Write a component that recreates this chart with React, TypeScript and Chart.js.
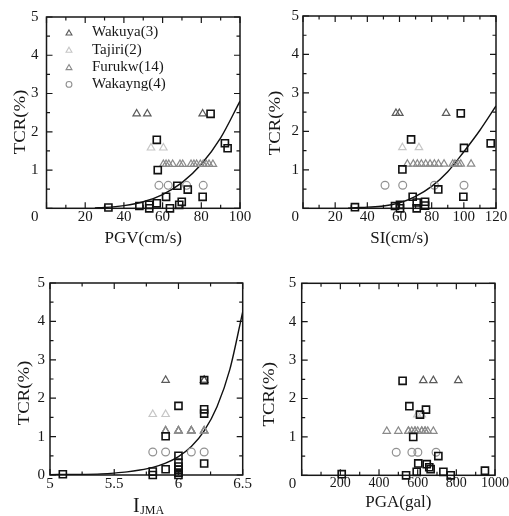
import React, { useEffect, useRef } from 'react';
import { Chart, registerables } from 'chart.js';

Chart.register(...registerables);

const FONT = '"Liberation Serif", "Times New Roman", Times, serif';
const INK = '#171717';

// ---------------- shared data ----------------
const TCR_TICKS = [0, 1, 2, 3, 4, 5];
const SERIES_LABELS = ['Wakuya(3)', 'Tajiri(2)', 'Furukw(14)', 'Wakayng(4)'];
const WAKUYA_TCR = [2.47, 2.47, 2.47];
const TAJIRI_TCR = [1.58, 1.58];
const FURUKW_TCR = [1.15, 1.15, 1.15, 1.15, 1.15, 1.15, 1.15, 1.15, 1.15, 1.15, 1.15, 1.15, 1.15, 1.15];
const WAKAYNG_TCR = [0.6, 0.6, 0.6, 0.6];

// ---------------- PGV ----------------
const PGV_TICKS = [0, 20, 40, 60, 80, 100];
const PGV_SQUARE_X = [32, 48, 53.1, 53.1, 57, 61.8, 63.8, 68.6, 69.9, 67.6, 73, 80.7, 57.5, 57, 84.8, 92.2, 93.6];
const PGV_SQUARE_TCR = [0.02, 0.06, 0.09, 0, 0.13, 0.3, 0, 0.09, 0.17, 0.59, 0.49, 0.3, 1.0, 1.79, 2.47, 1.7, 1.57];
const PGV_WAKUYA = [46.6, 52.1, 80.7];
const PGV_TAJIRI = [54, 60.4];
const PGV_FURUKW = [60.4, 61.8, 63.2, 65.2, 69, 70.4, 74.7, 76.2, 77.6, 79.5, 81, 82.5, 84, 86];
const PGV_WAKAYNG = [58.1, 62.9, 72.4, 81];
const PGV_FIT_X = [25, 30, 40, 50, 60, 70, 80, 90, 100];
const PGV_FIT_TCR = [0.01, 0.02, 0.07, 0.17, 0.36, 0.67, 1.15, 1.84, 2.8];

// ---------------- SI ----------------
const SI_TICKS = [0, 20, 40, 60, 80, 100, 120];
const SI_SQUARE_X = [32.3, 57.2, 60.3, 60.3, 68.2, 70.7, 70.7, 75.9, 75.9, 61.8, 67.2, 84.1, 99.7, 100.1, 98.1, 116.7];
const SI_SQUARE_TCR = [0.03, 0.06, 0.09, 0, 0.3, 0.15, 0, 0.17, 0.07, 1.01, 1.79, 0.49, 0.3, 1.57, 2.47, 1.69];
const SI_WAKUYA = [57.8, 59.9, 89];
const SI_TAJIRI = [61.8, 72.1];
const SI_FURUKW = [64.9, 68.6, 71.1, 73.6, 76.3, 79, 81.7, 84.2, 87.7, 93.1, 94.5, 96.6, 98.1, 104.5];
const SI_WAKAYNG = [51, 62, 81.7, 100.1];
const SI_FIT_X = [28, 30, 40, 50, 60, 70, 80, 90, 100, 110, 120];
const SI_FIT_TCR = [0, 0.01, 0.03, 0.06, 0.14, 0.31, 0.57, 0.95, 1.47, 2.03, 2.66];

// ---------------- I_JMA ----------------
const IJMA_TICKS = [5, 5.5, 6, 6.5];
const IJMA_SQUARE_X = [5.1, 5.8, 5.8, 5.9, 5.9, 6, 6, 6, 6, 6, 6, 6, 6.2, 6.2, 6.2, 6.2];
const IJMA_SQUARE_TCR = [0.02, 0.09, 0, 0.15, 1.01, 0.5, 0.32, 0.22, 0.14, 0.06, 0, 1.8, 2.47, 1.71, 1.6, 0.3];
const IJMA_WAKUYA = [5.9, 6.2, 6.2];
const IJMA_TAJIRI = [5.8, 5.9];
const IJMA_FURUKW = [5.9, 5.9, 5.9, 6, 6, 6, 6, 6.1, 6.1, 6.1, 6.1, 6.2, 6.2, 6.2];
const IJMA_WAKAYNG = [5.8, 5.9, 6.1, 6.2];
const IJMA_FIT_X = [5, 5.2, 5.4, 5.5, 5.6, 5.7, 5.8, 5.9, 6, 6.1, 6.2, 6.3, 6.4, 6.5];
const IJMA_FIT_TCR = [0.01, 0.015, 0.03, 0.05, 0.08, 0.13, 0.2, 0.31, 0.48, 0.74, 1.15, 1.78, 2.75, 4.25];

// ---------------- PGA ----------------
const PGA_TICKS = [0, 200, 400, 600, 800, 1000];
const PGA_SQUARE_X = [207, 522, 557, 643, 577, 603, 647, 660, 667, 707, 540, 595, 733, 771, 948, 612];
const PGA_SQUARE_TCR = [0.03, 2.46, 1.8, 1.71, 1.0, 0.31, 0.29, 0.21, 0.16, 0.5, 0, 0.09, 0.09, 0, 0.12, 1.58];
const PGA_WAKUYA = [629, 681, 810];
const PGA_TAJIRI = [598, 621];
const PGA_FURUKW = [440, 500, 552, 552, 569, 586, 586, 600, 621, 621, 638, 638, 652, 681];
const PGA_WAKAYNG = [489, 570, 601, 695];

// ---------------- plugins ----------------
const framePlugin = {
  id: 'frame',
  beforeDatasetsDraw(chart: any) {
    const { ctx, chartArea: a } = chart;
    const xs = chart.scales.x;
    const ys = chart.scales.y;
    const marks = (scale: any) => {
      const vals: number[] = scale.ticks.map((t: any) => t.value);
      const out: { v: number; major: boolean }[] = [];
      vals.forEach((v, i) => {
        out.push({ v, major: true });
        if (i < vals.length - 1) out.push({ v: (v + vals[i + 1]) / 2, major: false });
      });
      return out;
    };
    ctx.save();
    ctx.strokeStyle = INK;
    ctx.lineWidth = 1.2;
    ctx.beginPath();
    for (const m of marks(xs)) {
      const px = xs.getPixelForValue(m.v);
      const L = m.major ? 6 : 3.5;
      ctx.moveTo(px, a.bottom);
      ctx.lineTo(px, a.bottom - L);
      ctx.moveTo(px, a.top);
      ctx.lineTo(px, a.top + L);
    }
    for (const m of marks(ys)) {
      const py = ys.getPixelForValue(m.v);
      const L = m.major ? 6 : 3.5;
      ctx.moveTo(a.left, py);
      ctx.lineTo(a.left + L, py);
      ctx.moveTo(a.right, py);
      ctx.lineTo(a.right - L, py);
    }
    ctx.stroke();
    ctx.lineWidth = 1.5;
    ctx.strokeRect(a.left, a.top, a.right - a.left, a.bottom - a.top);
    ctx.restore();
  },
};

function drawMarker(ctx: CanvasRenderingContext2D, style: string, x: number, y: number, r: number) {
  ctx.beginPath();
  if (style === 'triangle') {
    for (let k = 0; k < 3; k++) {
      const ang = (k * 2 * Math.PI) / 3;
      const px = x + Math.sin(ang) * r;
      const py = y - Math.cos(ang) * r;
      if (k === 0) ctx.moveTo(px, py);
      else ctx.lineTo(px, py);
    }
    ctx.closePath();
  } else {
    ctx.arc(x, y, r, 0, Math.PI * 2);
  }
  ctx.stroke();
}

const legendPlugin = {
  id: 'insideLegend',
  afterDraw(chart: any, _args: any, opts: any) {
    if (!opts || !opts.show) return;
    const { ctx, chartArea: a } = chart;
    ctx.save();
    ctx.font = `${opts.fontSize}px ${FONT}`;
    ctx.textBaseline = 'middle';
    ctx.textAlign = 'left';
    let row = 0;
    chart.data.datasets.forEach((ds: any) => {
      if (!ds.inLegend) return;
      const y = a.top + opts.firstRow + row * opts.rowGap;
      ctx.strokeStyle = ds.pointBorderColor;
      ctx.lineWidth = 1.1;
      const r = ds.pointStyle === 'triangle' ? 3.4 : 2.9;
      drawMarker(ctx, ds.pointStyle, a.left + opts.markerX, ds.pointStyle === 'triangle' ? y + 0.8 : y, r);
      ctx.fillStyle = INK;
      ctx.fillText(ds.label, a.left + opts.textX, y);
      row++;
    });
    ctx.restore();
  },
};

// rotated y-axis title placed at a given centre (the reference's titles sit off-centre)
const yTitlePlugin = {
  id: 'yTitle',
  afterDraw(chart: any, _args: any, opts: any) {
    if (!opts || !opts.text) return;
    const { ctx } = chart;
    ctx.save();
    ctx.translate(opts.cx, opts.cy);
    ctx.rotate(-Math.PI / 2);
    ctx.scale(opts.stretch, 1);
    ctx.font = `${opts.size}px ${FONT}`;
    ctx.fillStyle = INK;
    ctx.textAlign = 'center';
    ctx.textBaseline = 'middle';
    ctx.fillText(opts.text, 0, 0);
    ctx.restore();
  },
};

const subTitlePlugin = {
  id: 'subTitle',
  afterDraw(chart: any, _args: any, opts: any) {
    if (!opts || !opts.main) return;
    const { ctx, chartArea: a } = chart;
    ctx.save();
    ctx.fillStyle = INK;
    ctx.textBaseline = 'alphabetic';
    ctx.textAlign = 'left';
    const mainFont = `${opts.mainSize}px ${FONT}`;
    const subFont = `${opts.subSize}px ${FONT}`;
    ctx.font = mainFont;
    const w1 = ctx.measureText(opts.main).width;
    ctx.font = subFont;
    const w2 = ctx.measureText(opts.sub).width;
    const cx = (a.left + a.right) / 2 + opts.dx;
    const x0 = cx - (w1 + w2) / 2;
    ctx.font = mainFont;
    ctx.fillText(opts.main, x0, opts.baseline);
    ctx.font = subFont;
    ctx.fillText(opts.sub, x0 + w1 + 0.5, opts.baseline + opts.subDrop);
    ctx.restore();
  },
};

// ---------------- panels ----------------
type PanelCfg = {
  x: number; y: number; w: number; h: number;
  padTop: number; padRight: number; yW: number; xH: number;
  yTickPad: number; xTickPad: number; xTickSize: number;
  yTitleCx: number; yTitleCy: number; xTitlePad: number;
  xTitle: string; lowerZero: boolean; hideX0: boolean; legend: boolean;
  sub?: { main: string; sub: string; mainSize: number; subSize: number; baseline: number; subDrop: number; dx: number };
  xTicks: number[];
  sqX: number[]; sqY: number[];
  wakuya: number[]; tajiri: number[]; furukw: number[]; wakayng: number[];
  fitX: number[]; fitY: number[];
};

const PANELS: PanelCfg[] = [
  {
    x: 0, y: 0, w: 254, h: 250, padTop: 16, padRight: 14, yW: 46.5, xH: 41.7,
    yTickPad: 8, xTickPad: 0, xTickSize: 15, yTitleCx: 20.5, yTitleCy: 122, xTitlePad: 1,
    xTitle: 'PGV(cm/s)', lowerZero: true, hideX0: true, legend: true,
    xTicks: PGV_TICKS, sqX: PGV_SQUARE_X, sqY: PGV_SQUARE_TCR,
    wakuya: PGV_WAKUYA, tajiri: PGV_TAJIRI, furukw: PGV_FURUKW, wakayng: PGV_WAKAYNG,
    fitX: PGV_FIT_X, fitY: PGV_FIT_TCR,
  },
  {
    x: 254, y: 0, w: 255, h: 250, padTop: 16, padRight: 13, yW: 49, xH: 41.7,
    yTickPad: 4, xTickPad: 0, xTickSize: 15, yTitleCx: 22, yTitleCy: 123, xTitlePad: 1,
    xTitle: 'SI(cm/s)', lowerZero: true, hideX0: true, legend: false,
    xTicks: SI_TICKS, sqX: SI_SQUARE_X, sqY: SI_SQUARE_TCR,
    wakuya: SI_WAKUYA, tajiri: SI_TAJIRI, furukw: SI_FURUKW, wakayng: SI_WAKAYNG,
    fitX: SI_FIT_X, fitY: SI_FIT_TCR,
  },
  {
    x: 0, y: 250, w: 254, h: 266, padTop: 33, padRight: 11.3, yW: 50, xH: 41,
    yTickPad: 5, xTickPad: 0, xTickSize: 15, yTitleCx: 25, yTitleCy: 126, xTitlePad: 1,
    xTitle: '', lowerZero: false, hideX0: false, legend: false,
    sub: { main: 'I', sub: 'JMA', mainSize: 20, subSize: 12, baseline: 261.5, subDrop: 2.5, dx: 2 },
    xTicks: IJMA_TICKS, sqX: IJMA_SQUARE_X, sqY: IJMA_SQUARE_TCR,
    wakuya: IJMA_WAKUYA, tajiri: IJMA_TAJIRI, furukw: IJMA_FURUKW, wakayng: IJMA_WAKAYNG,
    fitX: IJMA_FIT_X, fitY: IJMA_FIT_TCR,
  },
  {
    x: 254, y: 250, w: 255, h: 266, padTop: 33.3, padRight: 14, yW: 47.7, xH: 40.7,
    yTickPad: 5.5, xTickPad: 0, xTickSize: 14, yTitleCx: 16, yTitleCy: 127, xTitlePad: 3,
    xTitle: 'PGA(gal)', lowerZero: true, hideX0: true, legend: false,
    xTicks: PGA_TICKS, sqX: PGA_SQUARE_X, sqY: PGA_SQUARE_TCR,
    wakuya: PGA_WAKUYA, tajiri: PGA_TAJIRI, furukw: PGA_FURUKW, wakayng: PGA_WAKAYNG,
    fitX: [], fitY: [],
  },
];

const pts = (xs: number[], ys: number[]) => xs.map((x, i) => ({ x, y: ys[i] }));

function marker(label: string, xs: number[], ys: number[], style: string, radius: number, color: string, bw: number, inLegend: boolean) {
  return {
    label,
    inLegend,
    data: pts(xs, ys),
    showLine: false,
    pointStyle: style,
    pointRadius: radius,
    pointHoverRadius: radius,
    pointBorderColor: color,
    pointBackgroundColor: 'rgba(0,0,0,0)',
    pointBorderWidth: bw,
    borderColor: color,
    backgroundColor: 'rgba(0,0,0,0)',
    clip: false,
  };
}

function makeConfig(p: PanelCfg): any {
  const datasets: any[] = [
    marker('squares', p.sqX, p.sqY, 'rect', 5, '#111111', 1.6, false),
    marker(SERIES_LABELS[0], p.wakuya, WAKUYA_TCR, 'triangle', 4.3, '#5a5a5a', 1.2, true),
    marker(SERIES_LABELS[1], p.tajiri, TAJIRI_TCR, 'triangle', 4.3, '#c6c6c6', 1.2, true),
    marker(SERIES_LABELS[2], p.furukw, FURUKW_TCR, 'triangle', 4.3, '#8a8a8a', 1.2, true),
    marker(SERIES_LABELS[3], p.wakayng, WAKAYNG_TCR, 'circle', 3.9, '#919191', 1.2, true),
  ];
  if (p.fitX.length) {
    datasets.push({
      label: 'fit',
      inLegend: false,
      data: pts(p.fitX, p.fitY),
      showLine: true,
      pointRadius: 0,
      pointHoverRadius: 0,
      borderColor: '#111111',
      borderWidth: 1.4,
      cubicInterpolationMode: 'monotone',
      fill: false,
    });
  }
  return {
    type: 'scatter',
    data: { datasets },
    plugins: [framePlugin, legendPlugin, yTitlePlugin, subTitlePlugin],
    options: {
      animation: false,
      responsive: false,
      maintainAspectRatio: false,
      events: [],
      layout: { padding: { top: p.padTop, right: p.padRight, left: 0, bottom: 0 } },
      font: { family: FONT },
      plugins: {
        legend: { display: false },
        tooltip: { enabled: false },
        insideLegend: { show: p.legend, fontSize: 15, markerX: 22.5, textX: 45.5, firstRow: 15.5, rowGap: 17.3 },
        yTitle: { text: 'TCR(%)', cx: p.yTitleCx, cy: p.yTitleCy + p.padTop - 16, size: 17, stretch: 1.1 },
        subTitle: p.sub ? p.sub : { main: '' },
      },
      scales: {
        x: {
          type: 'linear',
          min: p.xTicks[0],
          max: p.xTicks[p.xTicks.length - 1],
          afterBuildTicks: (s: any) => { s.ticks = p.xTicks.map((v) => ({ value: v })); },
          afterFit: (s: any) => { s.height = p.xH; },
          grid: { display: false, drawTicks: false },
          border: { display: false },
          ticks: {
            padding: p.xTickPad,
            autoSkip: false,
            maxRotation: 0,
            color: INK,
            font: { family: FONT, size: p.xTickSize },
            callback: (v: any) => (p.hideX0 && v === 0 ? '' : String(v)),
          },
          title: {
            display: !!p.xTitle,
            text: p.xTitle,
            color: INK,
            font: { family: FONT, size: 17 },
            padding: { top: 0, bottom: p.xTitlePad },
          },
        },
        y: {
          type: 'linear',
          position: 'left',
          min: TCR_TICKS[0],
          max: TCR_TICKS[TCR_TICKS.length - 1],
          afterBuildTicks: (s: any) => { s.ticks = TCR_TICKS.map((v) => ({ value: v })); },
          afterFit: (s: any) => { s.width = p.yW; },
          grid: { display: false, drawTicks: false },
          border: { display: false },
          ticks: {
            padding: p.yTickPad,
            autoSkip: false,
            color: INK,
            font: { family: FONT, size: 15 },
            callback: (v: any) => (p.lowerZero && v === 0 ? ['', '0'] : String(v)),
          },
          title: { display: false },
        },
      },
    },
  };
}

function PanelChart({ p }: { p: PanelCfg }) {
  const ref = useRef<HTMLCanvasElement>(null);
  useEffect(() => {
    if (!ref.current) return;
    const chart = new Chart(ref.current, makeConfig(p));
    return () => chart.destroy();
  }, [p]);
  return (
    <canvas
      ref={ref}
      width={p.w}
      height={p.h}
      style={{ position: 'absolute', left: p.x, top: p.y, width: p.w, height: p.h }}
    />
  );
}

export default function App() {
  return (
    <div style={{ position: 'fixed', left: 0, top: 0, width: 509, height: 516, background: '#ffffff', overflow: 'hidden' }}>
      {PANELS.map((p, i) => (
        <PanelChart key={i} p={p} />
      ))}
    </div>
  );
}
